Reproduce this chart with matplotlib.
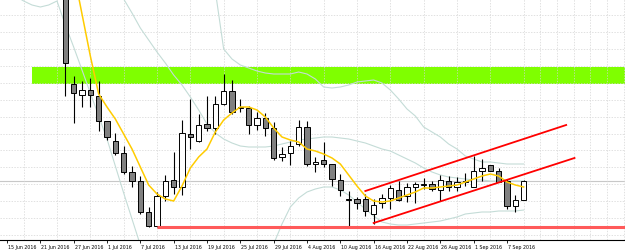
import numpy as np
import matplotlib.pyplot as plt
import matplotlib.transforms as mtransforms

# bar index 0 = 15 Jun 2016, one bar per trading day
tick_bars = [0, 4, 8, 12, 16, 20, 24, 28, 32, 36, 40, 44, 48, 52, 56, 60]
tick_labels = ['15 Jun 2016', '21 Jun 2016', '27 Jun 2016', '1 Jul 2016', '7 Jul 2016',
               '13 Jul 2016', '19 Jul 2016', '25 Jul 2016', '29 Jul 2016', '4 Aug 2016',
               '10 Aug 2016', '16 Aug 2016', '22 Aug 2016', '26 Aug 2016', '1 Sep 2016',
               '7 Sep 2016']

# candles, bars 7..62 (price in chart units)
first_bar = 7
opens = [300, 156, 145, 150, 144, 119, 99, 87, 68, 59, 28, 14, 44, 60, 53, 106, 99, 116,
         112, 136, 149, 133, 132, 115, 122, 112, 83, 87, 96, 113, 76, 80, 76, 60, 41, 41,
         41, 26, 37, 42, 50, 44, 53, 55, 56, 50, 59, 53, 58, 53, 69, 75, 69, 59, 34, 40]
highs = [310, 164, 159, 162, 159, 119, 107, 94, 74, 64, 33, 48, 65, 88, 120, 141, 126, 144,
         144, 166, 160, 141, 134, 128, 127, 118, 93, 99, 120, 119, 83, 98, 76, 66, 49, 43,
         46, 41, 46, 55, 59, 57, 58, 62, 59, 65, 64, 63, 67, 84, 81, 75, 72, 61, 45, 60]
lows = [144, 117, 133, 133, 109, 100, 85, 66, 53, 26, 13, 13, 39, 46, 45, 91, 98, 109,
        106, 135, 126, 128, 106, 110, 104, 80, 79, 75, 94, 74, 68, 73, 54, 44, 13, 31,
        24, 16, 32, 31, 39, 38, 37, 51, 49, 39, 49, 49, 54, 53, 59, 69, 58, 31, 28, 40]
closes = [177, 147, 150, 145, 119, 103, 87, 68, 59, 28, 14, 44, 59, 53, 107, 103, 115, 112,
          136, 149, 128, 132, 115, 122, 112, 82, 86, 94, 113, 76, 78, 76, 61, 50, 40, 37,
          29, 35, 42, 52, 40, 53, 56, 56, 51, 60, 53, 58, 59, 69, 72, 69, 58, 34, 40, 59]

# yellow moving average, bars 8..62
ma_first = 8
ma = [268, 226, 184, 146, 133, 121, 106, 91, 73, 55, 46, 41, 39, 54, 72, 83, 91, 108, 120,
      127, 133, 133, 130, 123, 112, 103, 100, 98, 91, 89, 86, 82, 76, 65, 54, 44, 39, 38,
      39, 42, 45, 48, 52, 52, 53, 54, 55, 58, 61, 64, 66, 64, 58, 55, 53]

# bollinger bands (visible parts only)
bb_up_first = 25
bb_up = [249, 191, 181, 175, 172, 169, 167, 166, 166, 166, 168, 166, 161, 153, 152, 153,
         155, 158, 159, 160, 157, 150, 141, 131, 124, 113, 108, 103, 96, 91, 84, 81, 78,
         78, 77, 76, 76, 76]
bb_mid_first = 13
bb_mid = [253, 241, 227, 212, 200, 188, 177, 165, 155, 143, 130, 116, 107, 101, 97, 94, 93,
          93, 93, 94, 96, 98, 100, 101, 102, 103, 103, 102, 101, 99, 97, 94, 91, 89, 85,
          81, 77, 72, 68, 65, 63, 62, 61, 60, 60, 59, 59, 59, 59, 59]
bb_low_a_first = 0
bb_low_a = [249, 244, 239, 235, 233, 235, 239, 215, 193, 170, 147, 124, 101, 74, 47, 21, -5]
bb_low_b_first = 32
bb_low_b = [-4, 16, 33, 42, 48, 51, 53, 53, 50, 45, 38, 31, 24, 18, 16, 15, 15, 16, 17, 18,
            19, 21, 23, 26, 27, 28, 28, 29, 29, 29, 30]

# objects drawn on the chart
zone_start, zone_low, zone_high = 3, 156, 173
support_start, support_level = 18, 13
channel_upper = ([43, 67.1], [49, 115])
channel_lower = ([44, 68.1], [17, 82])

fig = plt.figure(figsize=(6.25, 2.53), dpi=100)
ax = fig.add_axes([0, 12 / 253, 1, 241 / 253])

for s in ['top', 'right', 'left']:
    ax.spines[s].set_visible(False)
ax.spines['bottom'].set_linewidth(0.8)

# grid
ax.set_xticks(np.arange(-2, 76, 2), minor=True)
ax.set_yticks(np.arange(5.1, 241, 16.9))
ax.grid(which='minor', axis='x', color='#d4d4d4', lw=0.5, ls=(0, (2, 2)), zorder=0)
ax.grid(which='major', axis='y', color='#d4d4d4', lw=0.5, ls=(0, (2, 2)), zorder=0)
ax.tick_params(axis='y', left=False, labelleft=False)
ax.tick_params(axis='x', which='minor', length=0)

ax.set_xticks(tick_bars)
ax.set_xticklabels(tick_labels, fontsize=3.4, ha='left')
ax.tick_params(axis='x', which='major', length=2.2, width=0.6, pad=0.6, colors='black')
offset = mtransforms.ScaledTranslation(1 / 100, 0, fig.dpi_scale_trans)
for lab in ax.get_xticklabels():
    lab.set_transform(lab.get_transform() + offset)

# limits after the ticks, set_xticks would widen them
ax.set_xlim(-0.84, 74.16)
ax.set_ylim(0, 241)

# green zone
ax.axhspan(zone_low, zone_high, xmin=(zone_start + 0.84) / 75, xmax=1,
           color='#7fff00', lw=0, zorder=0.5)

# bid line
ax.axhline(closes[-1], color='#c8c8c8', lw=0.8, zorder=1)

# bollinger bands
bb_col = '#c4dcd7'
for first, vals in [(bb_up_first, bb_up), (bb_mid_first, bb_mid),
                    (bb_low_a_first, bb_low_a), (bb_low_b_first, bb_low_b)]:
    ax.plot(np.arange(first, first + len(vals)), vals, color=bb_col, lw=0.8, zorder=2)

# candles
bars = np.arange(first_bar, first_bar + len(opens))
o = np.array(opens)
c = np.array(closes)
ax.vlines(bars, lows, highs, color='black', lw=0.8, zorder=3)
up = c > o
body = np.maximum(np.abs(c - o), 0.4)
ax.bar(bars[up], body[up], bottom=np.minimum(o, c)[up], width=0.62,
       color='white', edgecolor='black', lw=0.7, zorder=4)
ax.bar(bars[~up], body[~up], bottom=np.minimum(o, c)[~up], width=0.62,
       color='#808080', edgecolor='black', lw=0.7, zorder=4)

# moving average
ax.plot(np.arange(ma_first, ma_first + len(ma)), ma, color='#ffcc00', lw=1.1, zorder=5)

# support line and channel
ax.plot([support_start, 80], [support_level, support_level], color='#ff5a5a', lw=2.2,
        solid_capstyle='butt', zorder=6)
ax.plot(*channel_upper, color='#ff0000', lw=1.3, zorder=6)
ax.plot(*channel_lower, color='#ff0000', lw=1.3, zorder=6)

ax.set_xlim(-0.84, 74.16)
plt.savefig('out.png', dpi=100)
